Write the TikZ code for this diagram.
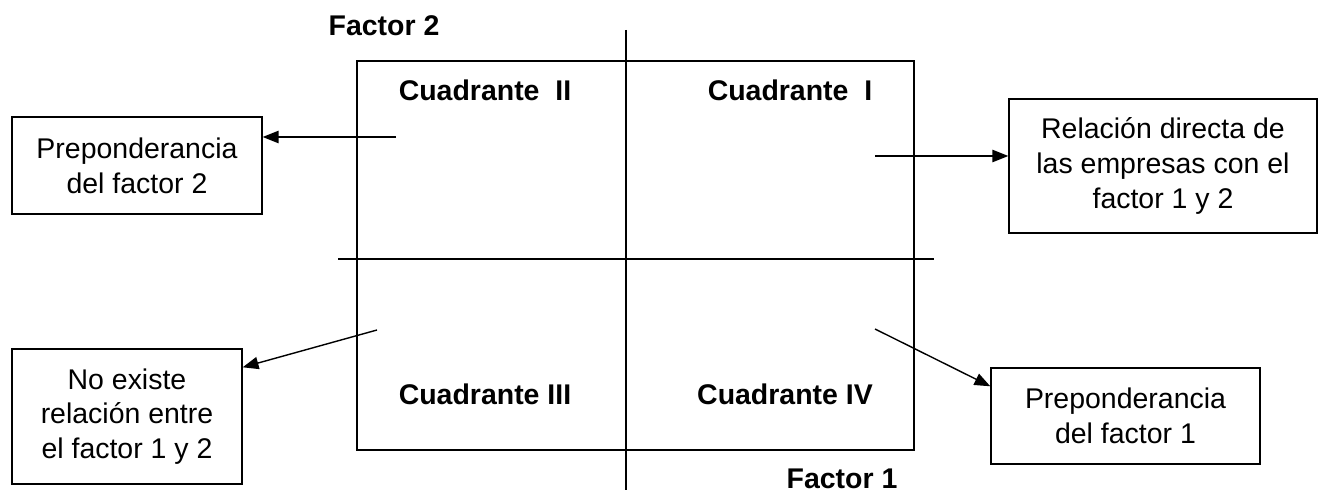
\documentclass[tikz,border=0pt]{standalone}
\usepackage{fontspec}
\setmainfont{Liberation Sans}
\usepackage{tikz}
\usetikzlibrary{arrows.meta}

\begin{document}
\begin{tikzpicture}[
    caja/.style={draw,line width=0.8pt,align=center,inner sep=0pt,
        font=\fontsize{16.2}{19.8}\selectfont},
    cuad/.style={font=\fontsize{16.2}{19.8}\selectfont\bfseries},
    flecha/.style={line width=0.8pt,-{Triangle[length=9pt,width=7pt]}}
]
\useasboundingbox (0,0) rectangle (26.4,-9.88);
% ejes y cuadrantes
\draw[line width=0.8pt] (7.14,-1.22) rectangle (18.28,-9.0);
\draw[line width=1pt] (12.52,-0.6) -- (12.52,-9.8);
\draw[line width=1pt] (6.76,-5.18) -- (18.68,-5.18);
\node[cuad] (f2) at (7.68,-0.52) {Factor 2};
\node[cuad] (f1) at (16.84,-9.58) {Factor 1};
\node[cuad] (c2) at (9.7,-1.8) {Cuadrante~~II};
\node[cuad] (c1) at (15.8,-1.8) {Cuadrante~~I};
\node[cuad] (c3) at (9.7,-7.88) {Cuadrante III};
\node[cuad] (c4) at (15.7,-7.88) {Cuadrante IV};
% cajas
\node[caja,minimum width=5cm,minimum height=1.94cm] (pf2) at (2.74,-3.31)
    {Preponderancia\\del factor 2};
\node[caja,minimum width=6.16cm,minimum height=2.68cm] (rel) at (23.26,-3.32)
    {Relación directa de\\las empresas con el\\factor 1 y 2};
\node[caja,minimum width=4.6cm,minimum height=2.7cm] (nex) at (2.54,-8.33)
    {No existe\\relación entre\\el factor 1 y 2};
\node[caja,minimum width=5.38cm,minimum height=1.92cm] (pf1) at (22.51,-8.32)
    {Preponderancia\\del factor 1};
% flechas
\coordinate (s2) at (7.92,-2.74);
\coordinate (s1) at (17.5,-3.12);
\coordinate (s3) at (7.54,-6.6);
\coordinate (s4) at (17.5,-6.58);
\draw[flecha] (s2) -- (pf2.east |- s2);
\draw[flecha] (s1) -- (rel.west |- s1);
\draw[flecha] (s3) -- ([yshift=-0.38cm]nex.north east);
\draw[flecha] (s4) -- ([yshift=-0.38cm]pf1.north west);
\end{tikzpicture}
\end{document}
